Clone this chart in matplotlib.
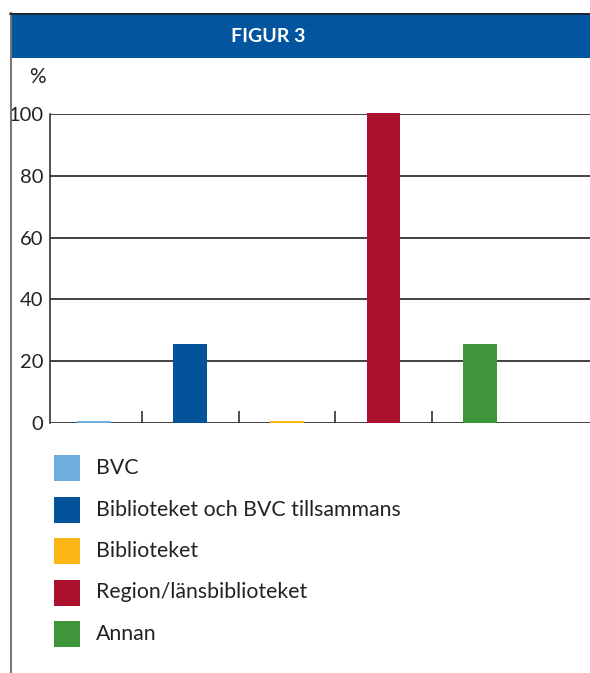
import matplotlib
matplotlib.use("Agg")
import matplotlib.pyplot as plt
from matplotlib.patches import Rectangle
from matplotlib.lines import Line2D

categories = ["BVC", "Biblioteket och BVC tillsammans", "Biblioteket",
              "Region/länsbiblioteket", "Annan"]
values = [0.5, 25.6, 0.5, 100.3, 25.6]
colors = ["#6FAEDC", "#02539A", "#FBB615", "#AB112D", "#3F963A"]
yticks = [0, 20, 40, 60, 80, 100]
title = "FIGUR 3"
ylabel = "%"

W, H = 590, 673
plt.rcParams['font.family'] = ['Lato', 'DejaVu Sans']
fig = plt.figure(figsize=(W / 100, H / 100), dpi=100)

def fx(px):
    return px / W

def fy(py):
    return 1 - py / H

# frame: left grey line and top dark line
fig.add_artist(Line2D([fx(10.5), fx(10.5)], [fy(13), fy(H)], color="#777777", lw=1.5))
# header band
fig.add_artist(Rectangle((fx(10), fy(58)), 1 - fx(10), fy(13) - fy(58),
                         facecolor="#02559E", edgecolor="none"))
fig.add_artist(Line2D([fx(10), 1], [fy(13.5), fy(13.5)], color="#222222", lw=1.2))
fig.text(fx(268), fy(37), title, color="white", fontsize=14, fontweight="bold",
         ha="center", va="center")

ax = fig.add_axes([fx(50), fy(423), 1 - fx(50), fy(114) - fy(423)])
x = list(range(len(categories)))
ax.bar(x, values, width=0.35, color=colors, zorder=3, clip_on=False)
ax.set_xlim(-0.451, 5.136)
ax.set_ylim(0, 100)
ax.set_yticks(yticks)
ax.set_yticklabels([str(v) for v in yticks], fontsize=14.5, color="#222222")
ax.tick_params(axis="y", length=0, pad=5)
ax.set_xticks([i + 0.5 for i in range(len(categories) - 1)])
ax.set_xticklabels([])
ax.tick_params(axis="x", direction="in", length=9, width=1.2, color="#333333")
for v in yticks:
    ax.axhline(v, color="#333333", lw=1.3, zorder=1)
for s in ["top", "right", "bottom"]:
    ax.spines[s].set_visible(False)
ax.spines["left"].set_color("#333333")
ax.spines["left"].set_linewidth(1.2)

fig.text(fx(37), fy(77), ylabel, fontsize=15, color="#222222", ha="center", va="center")

# legend
y0, dy = 468, 41.5
for i, (c, col) in enumerate(zip(categories, colors)):
    yc = y0 + i * dy
    fig.add_artist(Rectangle((fx(54), fy(yc + 13)), fx(26), fy(0) - fy(26),
                             facecolor=col, edgecolor="none"))
    fig.text(fx(96), fy(yc), c, fontsize=15.3, color="#222222", ha="left", va="center")

fig.savefig("out.png", dpi=100)
